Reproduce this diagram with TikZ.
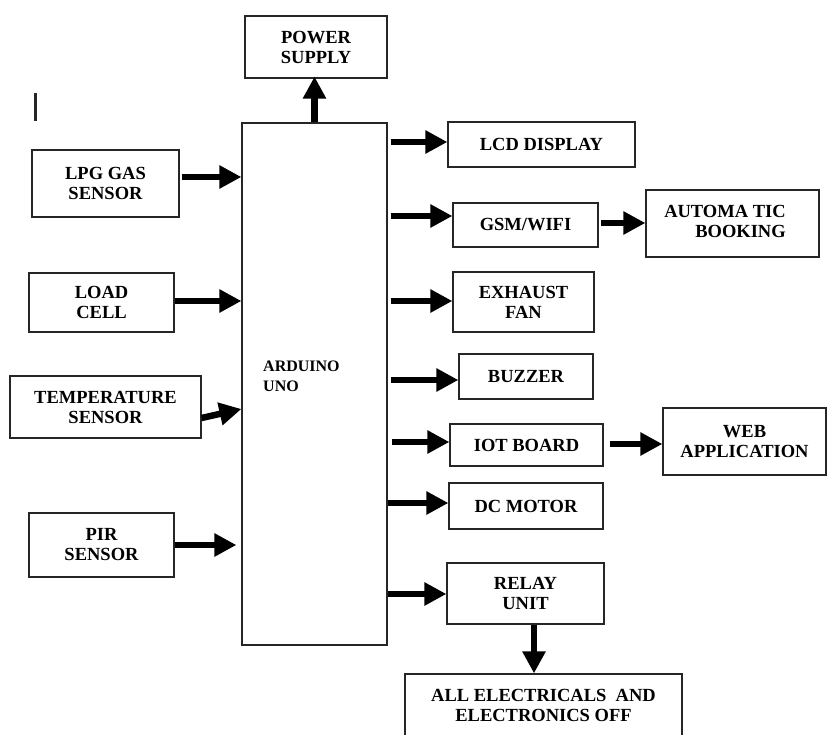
\documentclass[tikz,border=0pt]{standalone}
\usepackage{fontspec}
\setmainfont{Liberation Serif}
\usetikzlibrary{arrows.meta}
\begin{document}
\begin{tikzpicture}[x=1pt,y=-1pt,
  box/.style={draw=black!85, line width=1.2pt, inner sep=0pt, align=center,
    font=\fontsize{18.5}{20}\selectfont\bfseries},
  txt/.style={inner sep=0pt, font=\fontsize{18.5}{20}\selectfont\bfseries},
  arr/.style={line width=6.5pt, -{Triangle[length=22pt,width=22pt]}}]
\useasboundingbox (0,0) rectangle (827,735);
% central block
\node[box, minimum width=145, minimum height=522] (ard) at (314.5,384) {};
\node[txt, anchor=west, align=left, font=\fontsize{16}{20}\selectfont\bfseries] (ardtext) at (263,376) {ARDUINO\\UNO};
\node[box, minimum width=142, minimum height=62] (power) at (316,47) {POWER\\SUPPLY};
% inputs
\node[box, minimum width=147, minimum height=67] (lpg) at (105.5,183.5) {LPG GAS\\SENSOR};
\node[box, minimum width=145, minimum height=59] (load) at (101.5,302.5) {LOAD\\CELL};
\node[box, minimum width=191, minimum height=62] (temp) at (105.5,407) {TEMPERATURE\\SENSOR};
\node[box, minimum width=145, minimum height=64] (pir) at (101.5,545) {PIR\\SENSOR};
% outputs
\node[box, minimum width=187, minimum height=45] (lcd) at (541.5,144.5) {LCD DISPLAY};
\node[box, minimum width=145, minimum height=44] (gsm) at (525.5,225) {GSM/WIFI};
\node[box, minimum width=173, minimum height=67] (auto) at (732.5,223.5) {};
\node[txt, align=right] (autotext) at (725,221) {AUTOMA TIC\\BOOKING};
\node[box, minimum width=141, minimum height=60] (exhaust) at (523.5,302) {EXHAUST\\FAN};
\node[box, minimum width=134, minimum height=45] (buzzer) at (526,376.5) {BUZZER};
\node[box, minimum width=153, minimum height=42] (iot) at (526.5,445) {IOT BOARD};
\node[box, minimum width=163, minimum height=67] (web) at (744.5,441.5) {WEB\\APPLICATION};
\node[box, minimum width=154, minimum height=46] (dc) at (526,506) {DC MOTOR};
\node[box, minimum width=157, minimum height=61] (relay) at (525.5,593.5) {RELAY\\UNIT};
\node[box, minimum width=277, minimum height=76] (all) at (543.5,712) {};
\node[txt, align=center] (alltext) at (543.5,705.5) {ALL ELECTRICALS\ \ AND\\ELECTRONICS OFF};
% stray mark
\coordinate (m1) at (35,93);
\coordinate (m2) at (35,121);
\draw[line width=3pt, black!85] (m1) -- (m2);
% arrows
\draw[arr] (ard.north) -- ([yshift=2pt]ard.north |- power.south);
\draw[arr] ([xshift=2pt]lpg.east |- {(0,177)}) -- (ard.west |- {(0,177)});
\draw[arr] (load.east |- {(0,301)}) -- (ard.west |- {(0,301)});
\draw[arr] (temp.east |- {(0,418)}) -- (ard.west |- {(0,409)});
\draw[arr] (pir.east |- {(0,545)}) -- ([xshift=-5pt]ard.west |- {(0,545)});
\draw[arr] ([xshift=3pt]ard.east |- {(0,142)}) -- (lcd.west |- {(0,142)});
\draw[arr] ([xshift=3pt]ard.east |- {(0,216)}) -- (gsm.west |- {(0,216)});
\draw[arr] ([xshift=2pt]gsm.east |- {(0,223)}) -- (auto.west |- {(0,223)});
\draw[arr] ([xshift=3pt]ard.east |- {(0,301)}) -- (exhaust.west |- {(0,301)});
\draw[arr] ([xshift=3pt]ard.east |- {(0,380)}) -- (buzzer.west |- {(0,380)});
\draw[arr] ([xshift=4pt]ard.east |- {(0,442)}) -- (iot.west |- {(0,442)});
\draw[arr] ([xshift=6pt]iot.east |- {(0,444)}) -- (web.west |- {(0,444)});
\draw[arr] (ard.east |- {(0,503)}) -- (dc.west |- {(0,503)});
\draw[arr] (ard.east |- {(0,594)}) -- (relay.west |- {(0,594)});
\draw[arr] (relay.south -| {(534,0)}) -- (all.north -| {(534,0)});
\end{tikzpicture}
\end{document}
